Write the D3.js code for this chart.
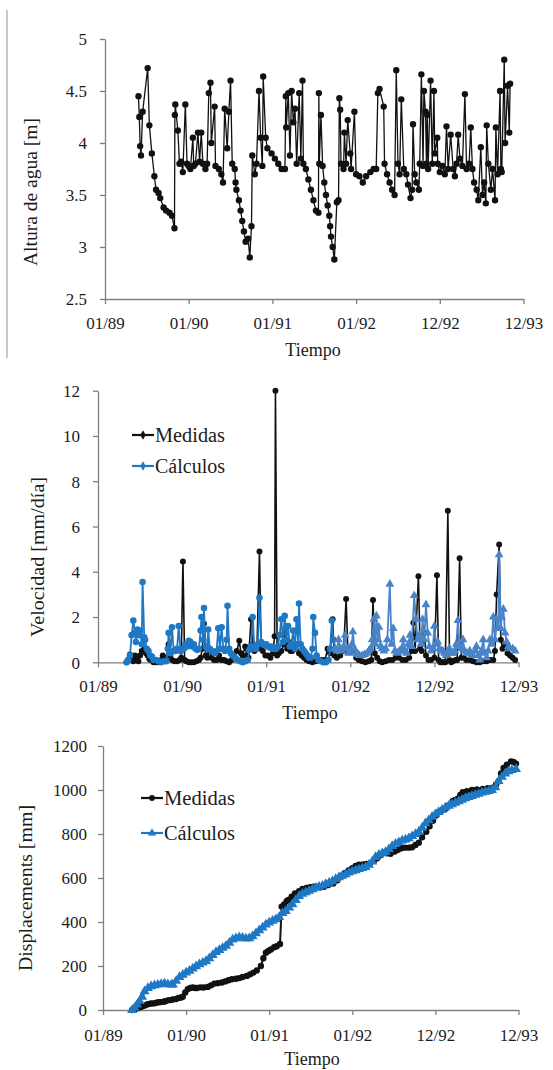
<!DOCTYPE html>
<html>
<head>
<meta charset="utf-8">
<script src="https://cdn.jsdelivr.net/npm/d3@7/dist/d3.min.js"></script>
<style>
body{margin:0;background:#fff;}
</style>
</head>
<body>
<svg id="chart" width="553" height="1070"></svg>
<script>
// x values are years since 01/89
const timeTicks = [0, 1, 2, 3, 4, 5];
const timeLabels = ["01/89", "01/90", "01/91", "01/92", "12/92", "12/93"];

// chart 1: water height [m]
const heightTime = [0.40,0.41,0.42,0.43,0.45,0.51,0.53,0.56,0.59,0.61,0.64,0.66,0.70,0.73,0.77,0.80,0.83,0.835,0.84,0.87,0.89,0.91,0.93,0.96,0.98,1.00,1.02,1.05,1.06,1.08,1.11,1.13,1.15,1.17,1.20,1.22,1.24,1.26,1.27,1.31,1.32,1.36,1.39,1.41,1.43,1.46,1.48,1.50,1.52,1.55,1.56,1.57,1.60,1.62,1.64,1.66,1.68,1.71,1.73,1.75,1.76,1.79,1.81,1.84,1.86,1.88,1.89,1.92,1.94,1.99,2.03,2.07,2.11,2.15,2.16,2.165,2.19,2.21,2.23,2.25,2.27,2.29,2.32,2.34,2.36,2.37,2.40,2.43,2.46,2.49,2.52,2.55,2.555,2.56,2.58,2.60,2.62,2.64,2.66,2.68,2.69,2.70,2.72,2.74,2.77,2.79,2.80,2.81,2.82,2.85,2.86,2.88,2.90,2.93,2.94,2.98,3.00,3.04,3.08,3.12,3.17,3.21,3.24,3.26,3.28,3.33,3.34,3.37,3.40,3.43,3.46,3.48,3.50,3.52,3.54,3.57,3.60,3.62,3.65,3.67,3.68,3.70,3.72,3.75,3.76,3.78,3.80,3.81,3.83,3.84,3.85,3.86,3.89,3.91,3.93,3.94,3.97,3.975,4.00,4.03,4.06,4.08,4.10,4.13,4.16,4.18,4.20,4.22,4.24,4.27,4.30,4.32,4.35,4.37,4.39,4.41,4.44,4.46,4.49,4.51,4.53,4.55,4.56,4.58,4.61,4.63,4.66,4.67,4.69,4.72,4.73,4.74,4.77,4.78,4.81,4.83,4.84];
const waterHeight = [4.45,4.25,3.97,3.88,4.30,4.72,4.17,3.90,3.68,3.55,3.52,3.47,3.38,3.35,3.33,3.30,3.18,4.27,4.37,4.12,3.80,3.82,3.72,4.37,3.80,3.78,3.75,4.05,3.78,3.80,4.10,3.82,4.10,3.80,3.75,3.80,4.48,4.58,4.00,4.35,3.78,3.75,3.70,3.62,4.33,3.95,4.30,4.60,3.80,3.75,3.62,3.55,3.45,3.35,3.25,3.15,3.05,3.08,2.90,3.20,3.88,3.70,3.80,4.50,4.05,3.78,4.64,4.05,3.95,3.90,3.85,3.80,3.75,3.75,4.45,4.15,4.48,3.88,4.50,4.20,4.33,3.80,4.48,3.85,4.60,3.80,3.75,3.65,3.55,3.45,3.35,3.33,4.48,3.80,4.27,3.78,3.62,3.50,3.40,3.30,3.20,3.10,3.00,2.88,3.43,3.45,4.43,4.32,3.80,3.75,4.10,3.80,4.22,3.90,3.75,4.30,3.70,3.68,3.62,3.68,3.72,3.75,3.75,4.48,4.52,4.35,3.80,3.70,3.62,3.55,3.50,4.70,3.80,3.70,4.42,3.75,3.70,3.60,3.47,3.55,4.18,3.70,3.62,3.55,3.80,4.66,3.78,4.50,4.30,3.80,4.27,3.75,4.60,3.80,4.50,3.90,4.05,3.80,3.72,3.78,3.70,4.16,3.75,4.08,3.75,3.68,3.80,4.08,3.85,3.78,4.47,3.75,3.80,4.15,3.75,3.62,3.55,3.45,3.96,3.50,3.62,3.42,4.17,3.80,3.55,3.75,3.45,4.15,3.70,4.50,3.75,3.72,4.80,4.00,4.55,4.10,4.57];

// chart 2: velocity [mm/dia]
const velMeasTime = [0.34,0.36,0.38,0.40,0.42,0.44,0.46,0.48,0.50,0.52,0.55,0.57,0.59,0.61,0.63,0.66,0.69,0.72,0.75,0.77,0.79,0.81,0.84,0.86,0.88,0.91,0.94,0.97,0.99,1.01,1.03,1.05,1.08,1.11,1.14,1.17,1.20,1.22,1.24,1.26,1.28,1.30,1.33,1.35,1.38,1.41,1.44,1.47,1.50,1.53,1.56,1.59,1.62,1.65,1.68,1.70,1.72,1.75,1.77,1.79,1.82,1.84,1.86,1.89,1.92,1.94,1.96,1.99,2.02,2.05,2.08,2.10,2.11,2.13,2.15,2.18,2.21,2.23,2.25,2.27,2.29,2.31,2.34,2.36,2.39,2.42,2.45,2.48,2.51,2.55,2.59,2.62,2.66,2.70,2.73,2.76,2.79,2.81,2.84,2.88,2.92,2.95,2.97,3.00,3.04,3.07,3.10,3.14,3.18,3.22,3.25,3.27,3.29,3.32,3.35,3.38,3.42,3.46,3.50,3.54,3.58,3.62,3.66,3.70,3.73,3.75,3.77,3.81,3.83,3.85,3.88,3.90,3.93,3.96,4.00,4.03,4.05,4.07,4.09,4.11,4.13,4.16,4.18,4.20,4.22,4.25,4.27,4.30,4.32,4.35,4.38,4.42,4.46,4.50,4.54,4.58,4.62,4.66,4.70,4.72,4.74,4.77,4.79,4.81,4.84,4.87,4.90,4.93,4.96];
const velMeas = [0,0.1,0.35,0.2,0.05,0.3,0.1,0.05,0.3,0.5,0.6,0.4,0.3,0.15,0.1,0,0,0,0.1,0.3,0.2,0.1,0.8,0.3,0.1,0.05,0.05,0.1,0.2,4.45,0.1,0.05,0,0,0,0.05,0.1,0.2,0.6,1.7,0.3,0.2,0.5,0.2,0.1,0.1,0.3,0.1,0.1,0.05,0,0.1,0.2,0.5,0.95,0.4,0.3,0.7,0.3,0.2,1.9,0.8,0.5,0.6,4.9,0.6,0.5,0.3,0.3,0.2,0.4,1.15,12,0.3,0.4,0.5,0.8,1.4,0.6,0.9,0.5,0.5,0.6,0.8,0.4,0.3,0.2,0.1,0.05,0,0.05,0.1,0.1,0.1,0.6,0.4,1.9,0.3,0.2,0.3,0.5,2.8,0.6,0.5,0.5,0.2,0.1,0.05,0,0.05,0.1,2.75,0.4,0.2,0.05,0,0.05,0.1,0.1,0.2,0.2,0.1,0.1,0.2,0.5,1.75,0.5,3.8,0.6,0.5,1.3,0.3,0.1,0.1,0.2,3.85,0.1,0,0,0,0,6.7,0.1,0,0.05,0.1,0.1,4.6,0.2,0.2,0.1,0.1,0.05,0,0,0.05,0.05,0.1,0.1,0.5,3.0,5.2,1.0,0.6,0.8,0.4,0.3,0.2,0.1];
const velCalcTimeA = [0.34,0.36,0.38,0.40,0.42,0.44,0.45,0.47,0.49,0.50,0.52,0.53,0.55,0.56,0.58,0.60,0.62,0.64,0.66,0.69,0.72,0.75,0.78,0.81,0.83,0.84,0.86,0.88,0.90,0.92,0.94,0.96,0.98,1.00,1.02,1.04,1.06,1.08,1.10,1.12,1.14,1.16,1.18,1.20,1.22,1.23,1.25,1.26,1.28,1.30,1.31,1.33,1.35,1.37,1.39,1.41,1.43,1.45,1.47,1.49,1.51,1.53,1.54,1.56,1.58,1.60,1.62,1.64,1.66,1.69,1.72,1.75,1.78,1.80,1.82,1.84,1.86,1.88,1.90,1.92,1.94,1.96,1.98,2.00,2.02,2.04,2.06,2.08,2.10,2.12,2.14,2.16,2.18,2.20,2.22,2.24,2.26,2.28,2.30,2.32,2.34,2.36,2.38,2.39,2.41,2.43,2.45,2.47,2.49,2.51,2.53,2.55,2.56,2.58,2.60,2.62,2.65,2.68,2.71,2.74,2.76,2.78,2.80,2.82];
const velCalcA = [0,0.1,0.3,1.2,1.85,1.3,0.9,1.45,1.2,1.4,0.8,3.55,1.1,1.0,0.6,0.5,0.3,0.25,0.1,0.1,0.05,0,0.05,0.05,0.6,1.3,0.4,1.55,0.5,0.5,0.6,1.6,0.5,0.55,0.6,0.8,0.7,0.95,0.9,0.7,0.8,0.6,0.55,0.6,1.4,2.0,1.0,2.4,0.7,0.6,1.45,0.6,0.5,0.45,0.4,0.5,1.5,0.6,1.55,0.6,0.5,1.0,2.5,0.6,0.4,0.3,0.25,0.15,0.1,0.05,0,0.05,0.1,0.55,0.7,2.0,0.6,0.6,0.8,2.85,0.9,0.8,0.75,0.8,0.7,0.65,0.7,0.6,0.6,0.6,0.7,1.2,1.9,0.9,2.05,1.0,1.6,0.7,0.8,1.4,0.6,1.9,0.8,2.6,0.8,0.6,0.5,0.4,0.3,0.2,0.2,0.6,2.0,1.3,0.3,0.1,0.05,0,0,0.1,0.6,1.85,1.0,0.6];
const velCalcTimeB = [2.82,2.84,2.86,2.88,2.90,2.92,2.94,2.96,2.98,3.00,3.02,3.03,3.05,3.07,3.09,3.11,3.14,3.17,3.20,3.22,3.24,3.26,3.28,3.30,3.31,3.33,3.34,3.36,3.38,3.40,3.42,3.44,3.47,3.49,3.51,3.53,3.55,3.57,3.59,3.61,3.63,3.65,3.67,3.69,3.71,3.73,3.76,3.78,3.80,3.82,3.84,3.86,3.88,3.90,3.92,3.94,3.96,3.98,4.00,4.02,4.04,4.06,4.08,4.10,4.12,4.14,4.16,4.18,4.20,4.22,4.24,4.26,4.28,4.30,4.32,4.34,4.36,4.38,4.40,4.42,4.44,4.46,4.48,4.50,4.52,4.54,4.56,4.58,4.60,4.62,4.64,4.66,4.68,4.70,4.72,4.74,4.76,4.77,4.79,4.80,4.82,4.84,4.86,4.88,4.90,4.93,4.96];
const velCalcB = [0.6,0.5,1.0,0.6,0.5,0.7,1.2,0.6,0.4,0.5,0.8,1.35,0.6,0.4,0.35,0.3,0.3,0.35,0.4,0.5,0.6,1.0,1.9,0.8,2.05,1.0,1.55,0.7,0.6,0.5,0.6,1.0,3.45,0.8,1.5,0.5,0.4,0.45,0.5,0.6,1.0,0.5,0.4,0.8,1.2,0.7,2.95,1.9,1.0,1.2,0.8,1.9,1.0,2.55,1.3,0.7,0.5,0.6,1.6,0.8,0.9,0.6,0.5,0.5,0.4,0.3,0.5,0.6,0.4,0.4,0.5,0.8,1.85,0.7,0.6,1.0,0.5,0.4,0.4,0.5,0.3,0.3,0.5,0.7,0.3,0.1,0.5,1.0,0.4,0.2,0.5,1.0,0.8,2.0,1.0,1.9,1.5,4.75,1.5,2.0,2.35,1.3,0.9,0.7,0.6,0.6,0.5];

// chart 3: displacements [mm]
const dispMeasTime = [0.35,0.38,0.41,0.43,0.46,0.48,0.50,0.53,0.56,0.58,0.61,0.64,0.67,0.70,0.73,0.75,0.78,0.81,0.84,0.88,0.91,0.94,0.96,0.99,1.02,1.05,1.08,1.11,1.13,1.17,1.21,1.26,1.30,1.34,1.38,1.43,1.47,1.51,1.55,1.60,1.64,1.68,1.73,1.77,1.81,1.85,1.90,1.93,1.96,1.99,2.02,2.06,2.09,2.13,2.15,2.18,2.21,2.23,2.27,2.31,2.36,2.40,2.45,2.49,2.53,2.58,2.62,2.66,2.71,2.77,2.82,2.87,2.91,2.96,3.00,3.04,3.08,3.13,3.17,3.21,3.26,3.30,3.34,3.38,3.42,3.46,3.51,3.55,3.59,3.63,3.68,3.72,3.76,3.80,3.84,3.89,3.93,3.97,4.01,4.04,4.08,4.12,4.16,4.21,4.24,4.27,4.30,4.33,4.38,4.44,4.50,4.57,4.63,4.69,4.73,4.76,4.79,4.82,4.86,4.91,4.94,4.97];
const dispMeas = [0,3,8,10,15,18,20,25,28,30,30,33,35,36,38,40,44,45,48,50,55,57,60,80,95,100,102,100,100,103,102,105,112,120,122,125,130,135,140,142,145,150,155,162,170,180,200,235,260,268,275,285,290,300,470,480,495,500,515,530,540,550,555,558,560,560,558,560,568,575,590,610,622,635,645,655,660,662,664,665,678,690,703,715,712,710,720,728,735,738,738,740,750,760,785,810,835,860,885,900,908,915,930,950,955,960,978,990,995,1000,1002,1005,1008,1010,1025,1040,1075,1100,1115,1130,1128,1120];
const dispCalcTime = [0.35,0.38,0.41,0.44,0.47,0.50,0.54,0.58,0.62,0.66,0.70,0.74,0.78,0.82,0.84,0.88,0.92,0.96,1.00,1.04,1.08,1.12,1.16,1.20,1.24,1.28,1.32,1.36,1.40,1.44,1.48,1.52,1.56,1.60,1.64,1.68,1.72,1.76,1.80,1.84,1.88,1.92,1.96,2.00,2.04,2.08,2.12,2.16,2.20,2.24,2.28,2.32,2.36,2.40,2.44,2.48,2.52,2.56,2.60,2.64,2.68,2.72,2.76,2.80,2.84,2.88,2.92,2.96,3.00,3.04,3.08,3.12,3.16,3.20,3.24,3.28,3.32,3.36,3.40,3.44,3.48,3.52,3.56,3.60,3.64,3.68,3.72,3.76,3.80,3.84,3.88,3.92,3.96,4.00,4.04,4.08,4.12,4.16,4.20,4.24,4.28,4.32,4.36,4.40,4.44,4.48,4.52,4.56,4.60,4.64,4.68,4.72,4.76,4.80,4.84,4.88,4.92,4.97];
const dispCalc = [0,10,25,40,60,85,100,108,112,115,118,120,117,115,115,132,150,160,170,178,188,198,208,215,222,235,250,263,272,282,292,305,320,326,330,328,325,326,335,348,362,375,388,397,405,412,422,440,450,465,480,500,518,528,535,542,548,555,560,565,572,578,585,595,603,610,617,625,630,635,640,645,650,660,675,695,705,712,718,730,745,755,762,770,775,780,790,800,810,828,848,862,878,890,900,910,920,928,935,942,948,955,962,968,972,978,982,988,992,995,1000,1012,1040,1060,1075,1085,1090,1095];

const svg = d3.select("#chart");
const fontFamily = "'Liberation Serif', 'Times New Roman', serif";
const textColor = "#1c1c1c";
const axisColor = "#808080";

function zip(xs, ys){
    return xs.map(function(x, i){ return {t: x, v: ys[i]}; });
}

function draw_frame(cfg){
    let x = d3.scaleLinear().domain([0, 5]).range([cfg.left, cfg.right]);
    let y = d3.scaleLinear().domain(cfg.yDomain).range([cfg.bottom, cfg.top]);
    let g = svg.append("g");

    let xAxis = g.append("g")
        .attr("transform", "translate(0," + cfg.bottom + ")")
        .call(d3.axisBottom(x).tickValues(timeTicks).tickSize(5).tickSizeOuter(0)
            .tickFormat(function(d, i){ return timeLabels[i]; }));
    let yAxis = g.append("g")
        .attr("transform", "translate(" + cfg.left + ",0)")
        .call(d3.axisLeft(y).tickValues(cfg.yTicks).tickSize(5).tickSizeOuter(0)
            .tickFormat(d3.format("")));

    xAxis.attr("font-family", null).attr("font-size", null);
    yAxis.attr("font-family", null).attr("font-size", null);
    g.selectAll(".domain, .tick line").attr("stroke", axisColor).attr("stroke-width", 1.3);
    xAxis.selectAll("text").attr("dy", null).attr("y", cfg.xLabelY - cfg.bottom)
        .attr("dominant-baseline", "central");
    yAxis.selectAll("text").attr("x", cfg.yLabelRight - cfg.left).attr("dy", "0.35em");
    g.selectAll(".tick text").attr("fill", textColor)
        .attr("font-family", fontFamily).attr("font-size", "17px");

    g.append("text")
        .attr("x", cfg.titleX).attr("y", cfg.titleY)
        .attr("text-anchor", "middle").attr("dominant-baseline", "central")
        .attr("font-family", fontFamily).attr("font-size", "18px").attr("fill", textColor)
        .text("Tiempo");
    g.append("text")
        .attr("transform", "translate(" + cfg.yTitleX + "," + cfg.yTitleY + ") rotate(-90)")
        .attr("text-anchor", "middle").attr("dominant-baseline", "central")
        .attr("textLength", cfg.yTitleLen).attr("lengthAdjust", "spacingAndGlyphs")
        .attr("font-family", fontFamily).attr("font-size", "18px").attr("fill", textColor)
        .text(cfg.yTitle);

    return {x: x, y: y, g: g};
}

function draw_series(frame, data, color, marker, size, width = 1.3){
    let line = d3.line().x(d => frame.x(d.t)).y(d => frame.y(d.v));
    frame.g.append("path")
        .datum(data)
        .attr("fill", "none")
        .attr("stroke", color)
        .attr("stroke-width", width)
        .attr("d", line);
    frame.g.append("g")
        .selectAll("path")
        .data(data)
        .enter()
        .append("path")
        .attr("transform", d => "translate(" + frame.x(d.t) + "," + frame.y(d.v) + ")")
        .attr("d", d3.symbol().type(marker).size(size))
        .attr("fill", color);
}

function draw_legend(frame, items, x0, x1, ys, textLen){
    items.forEach(function(item, i){
        let g = frame.g.append("g");
        g.append("line")
            .attr("x1", x0).attr("x2", x1).attr("y1", ys[i]).attr("y2", ys[i])
            .attr("stroke", item.color).attr("stroke-width", 2.2);
        g.append("path")
            .attr("transform", "translate(" + ((x0 + x1) / 2) + "," + ys[i] + ")")
            .attr("d", d3.symbol().type(item.marker).size(item.size))
            .attr("fill", item.color);
        g.append("text")
            .attr("x", x1 + 1).attr("y", ys[i])
            .attr("dominant-baseline", "central")
            .attr("textLength", textLen).attr("lengthAdjust", "spacingAndGlyphs")
            .attr("font-family", fontFamily).attr("font-size", "20px").attr("fill", textColor)
            .text(item.label);
    });
}

// left frame edge of the scanned figure
svg.append("line")
    .attr("x1", 7).attr("x2", 7).attr("y1", 10).attr("y2", 358)
    .attr("stroke", "#c8c8c8").attr("stroke-width", 2);

// chart 1
let f1 = draw_frame({
    left: 105, right: 523.5, top: 39, bottom: 299,
    yDomain: [2.5, 5], yTicks: [2.5, 3, 3.5, 4, 4.5, 5],
    xLabelY: 323, yLabelRight: 87,
    titleX: 313, titleY: 350,
    yTitle: "Altura de agua  [m]", yTitleX: 31, yTitleY: 192, yTitleLen: 148
});
draw_series(f1, zip(heightTime, waterHeight), "#111", d3.symbolCircle, 32);

// chart 2
let f2 = draw_frame({
    left: 98, right: 518.5, top: 390.7, bottom: 662.3,
    yDomain: [0, 12], yTicks: [0, 2, 4, 6, 8, 10, 12],
    xLabelY: 687, yLabelRight: 80,
    titleX: 310, titleY: 713,
    yTitle: "Velocidad [mm/día]", yTitleX: 38, yTitleY: 557, yTitleLen: 160
});
draw_series(f2, zip(velMeasTime, velMeas), "#111", d3.symbolCircle, 28, 1.6);
draw_series(f2, zip(velCalcTimeA, velCalcA), "#1f78c4", d3.symbolCircle, 34, 1.8);
draw_series(f2, zip(velCalcTimeB, velCalcB), "#4a84c8", d3.symbolTriangle, 34, 1.8);
draw_legend(f2, [
    {label: "Medidas", color: "#111", marker: d3.symbolDiamond, size: 26},
    {label: "Cálculos", color: "#1f78c4", marker: d3.symbolDiamond, size: 26}
], 132, 154, [435, 466], 70);

// chart 3
let f3 = draw_frame({
    left: 103, right: 518.5, top: 746, bottom: 1010,
    yDomain: [0, 1200], yTicks: [0, 200, 400, 600, 800, 1000, 1200],
    xLabelY: 1035, yLabelRight: 87,
    titleX: 312, titleY: 1059,
    yTitle: "Displacements [mm]", yTitleX: 26, yTitleY: 888, yTitleLen: 166
});
draw_series(f3, zip(dispMeasTime, dispMeas), "#111", d3.symbolCircle, 32, 2);
draw_series(f3, zip(dispCalcTime, dispCalc), "#1f78c4", d3.symbolTriangle, 44, 3);
draw_legend(f3, [
    {label: "Medidas", color: "#111", marker: d3.symbolCircle, size: 26},
    {label: "Cálculos", color: "#1f78c4", marker: d3.symbolTriangle, size: 30}
], 141, 163, [798, 833], 71);
</script>
</body>
</html>
